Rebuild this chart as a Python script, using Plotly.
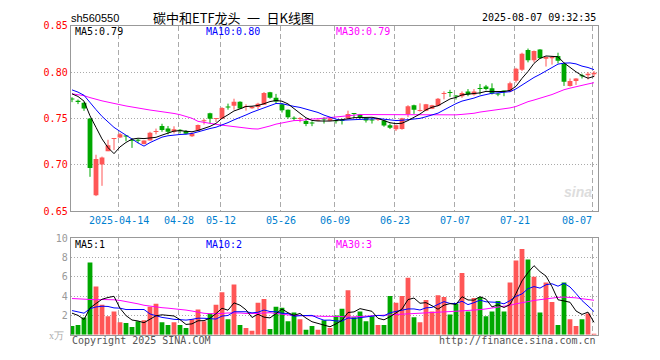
import plotly.graph_objects as go
import pandas as pd

# ---------------- data ----------------
dates = [
    "2025-04-01", "2025-04-02", "2025-04-03", "2025-04-07", "2025-04-08", "2025-04-09", "2025-04-10",
    "2025-04-11", "2025-04-14", "2025-04-15", "2025-04-16", "2025-04-17", "2025-04-18", "2025-04-21",
    "2025-04-22", "2025-04-23", "2025-04-24", "2025-04-25", "2025-04-28", "2025-04-29", "2025-04-30",
    "2025-05-06", "2025-05-07", "2025-05-08", "2025-05-09", "2025-05-12", "2025-05-13", "2025-05-14",
    "2025-05-15", "2025-05-16", "2025-05-19", "2025-05-20", "2025-05-21", "2025-05-22", "2025-05-23",
    "2025-05-26", "2025-05-27", "2025-05-28", "2025-05-29", "2025-05-30", "2025-06-03", "2025-06-04",
    "2025-06-05", "2025-06-06", "2025-06-09", "2025-06-10", "2025-06-11", "2025-06-12", "2025-06-13",
    "2025-06-16", "2025-06-17", "2025-06-18", "2025-06-19", "2025-06-20", "2025-06-23", "2025-06-24",
    "2025-06-25", "2025-06-26", "2025-06-27", "2025-06-30", "2025-07-01", "2025-07-02", "2025-07-03",
    "2025-07-04", "2025-07-07", "2025-07-08", "2025-07-09", "2025-07-10", "2025-07-11", "2025-07-14",
    "2025-07-15", "2025-07-16", "2025-07-17", "2025-07-18", "2025-07-21", "2025-07-22", "2025-07-23",
    "2025-07-24", "2025-07-25", "2025-07-28", "2025-07-29", "2025-07-30", "2025-07-31", "2025-08-01",
    "2025-08-04", "2025-08-05", "2025-08-06", "2025-08-07",
]

opens = [
    0.7708, 0.7683, 0.7670, 0.7500, 0.6672, 0.7004, 0.7149, 0.7280, 0.7297, 0.7309,
    0.7263, 0.7263, 0.7226, 0.7264, 0.7355, 0.7420, 0.7392, 0.7358, 0.7371, 0.7365,
    0.7309, 0.7370, 0.7471, 0.7557, 0.7495, 0.7498, 0.7623, 0.7637, 0.7682, 0.7624,
    0.7610, 0.7624, 0.7650, 0.7785, 0.7724, 0.7655, 0.7595, 0.7501, 0.7495, 0.7474,
    0.7449, 0.7477, 0.7493, 0.7477, 0.7474, 0.7477, 0.7503, 0.7553, 0.7543, 0.7508,
    0.7483, 0.7487, 0.7480, 0.7429, 0.7385, 0.7387, 0.7550, 0.7644, 0.7582, 0.7585,
    0.7606, 0.7637, 0.7766, 0.7779, 0.7741, 0.7741, 0.7793, 0.7759, 0.7821, 0.7846,
    0.7828, 0.7762, 0.7796, 0.7793, 0.7908, 0.8026, 0.8238, 0.8130, 0.8245, 0.8144,
    0.8150, 0.8175, 0.8095, 0.7852, 0.7904, 0.7960, 0.7967, 0.7977,
]
highs = [
    0.7730, 0.7705, 0.7677, 0.7503, 0.7110, 0.7090, 0.7271, 0.7286, 0.7345, 0.7320,
    0.7288, 0.7281, 0.7264, 0.7358, 0.7392, 0.7444, 0.7420, 0.7417, 0.7385, 0.7375,
    0.7350, 0.7436, 0.7498, 0.7563, 0.7505, 0.7623, 0.7661, 0.7714, 0.7686, 0.7654,
    0.7635, 0.7670, 0.7786, 0.7788, 0.7766, 0.7665, 0.7598, 0.7524, 0.7516, 0.7498,
    0.7470, 0.7490, 0.7514, 0.7508, 0.7488, 0.7498, 0.7585, 0.7560, 0.7550, 0.7510,
    0.7505, 0.7498, 0.7485, 0.7446, 0.7432, 0.7508, 0.7644, 0.7650, 0.7664, 0.7658,
    0.7648, 0.7722, 0.7794, 0.7810, 0.7752, 0.7793, 0.7818, 0.7818, 0.7873, 0.7863,
    0.7880, 0.7776, 0.7804, 0.7898, 0.8047, 0.8210, 0.8255, 0.8234, 0.8248, 0.8170,
    0.8175, 0.8210, 0.8098, 0.7932, 0.7935, 0.7984, 0.8001, 0.8012,
]
lows = [
    0.7677, 0.7656, 0.7583, 0.6872, 0.6664, 0.6775, 0.7149, 0.7160, 0.7290, 0.7255,
    0.7184, 0.7236, 0.7222, 0.7264, 0.7330, 0.7358, 0.7330, 0.7340, 0.7340, 0.7330,
    0.7302, 0.7366, 0.7436, 0.7446, 0.7463, 0.7498, 0.7596, 0.7596, 0.7605, 0.7585,
    0.7605, 0.7600, 0.7648, 0.7714, 0.7660, 0.7565, 0.7498, 0.7477, 0.7460, 0.7418,
    0.7418, 0.7474, 0.7446, 0.7474, 0.7446, 0.7436, 0.7498, 0.7505, 0.7495, 0.7457,
    0.7446, 0.7474, 0.7412, 0.7387, 0.7366, 0.7380, 0.7515, 0.7550, 0.7575, 0.7580,
    0.7602, 0.7633, 0.7707, 0.7734, 0.7705, 0.7724, 0.7741, 0.7748, 0.7759, 0.7804,
    0.7759, 0.7741, 0.7741, 0.7783, 0.7887, 0.8012, 0.8106, 0.8106, 0.8148, 0.8061,
    0.8082, 0.8095, 0.7852, 0.7845, 0.7863, 0.7932, 0.7922, 0.7949,
]
closes = [
    0.7705, 0.7680, 0.7608, 0.6968, 0.7065, 0.7081, 0.7212, 0.7283, 0.7331, 0.7306,
    0.7260, 0.7260, 0.7264, 0.7347, 0.7358, 0.7378, 0.7358, 0.7385, 0.7368, 0.7337,
    0.7340, 0.7430, 0.7474, 0.7498, 0.7498, 0.7613, 0.7620, 0.7682, 0.7609, 0.7627,
    0.7628, 0.7661, 0.7776, 0.7724, 0.7685, 0.7590, 0.7515, 0.7498, 0.7498, 0.7442,
    0.7446, 0.7485, 0.7490, 0.7503, 0.7471, 0.7474, 0.7550, 0.7550, 0.7508, 0.7480,
    0.7480, 0.7490, 0.7425, 0.7401, 0.7429, 0.7503, 0.7634, 0.7594, 0.7585, 0.7654,
    0.7644, 0.7714, 0.7769, 0.7776, 0.7738, 0.7776, 0.7759, 0.7793, 0.7818, 0.7818,
    0.7769, 0.7759, 0.7793, 0.7880, 0.8036, 0.8200, 0.8130, 0.8228, 0.8151, 0.8165,
    0.8165, 0.8123, 0.7898, 0.7904, 0.7932, 0.7957, 0.7984, 0.7995,
]
# volume, in units of 10,000 shares ("x万")
volumes = [
    0.9, 1.0, 1.77, 7.5, 5.0, 3.1, 1.9, 2.4, 1.3, 1.2,
    0.8, 1.4, 1.5, 2.9, 3.2, 1.3, 1.0, 1.3, 1.0, 0.7,
    1.6, 2.6, 1.4, 2.2, 3.1, 4.4, 1.6, 5.2, 1.0, 0.7,
    0.4, 3.3, 3.7, 0.6, 2.9, 2.8, 1.4, 2.3, 1.6, 0.5,
    0.9, 0.5, 1.5, 0.7, 2.0, 2.7, 4.6, 1.8, 2.4, 1.4,
    1.9, 1.0, 1.0, 4.0, 3.3, 4.0, 5.9, 1.8, 1.3, 3.6,
    2.4, 4.1, 3.9, 2.1, 3.2, 6.4, 2.4, 3.8, 3.9, 1.9,
    2.4, 3.5, 2.4, 5.4, 7.7, 8.9, 7.8, 6.0, 2.3, 5.4,
    3.4, 1.0, 5.4, 1.6, 0.9, 1.6, 2.2, 0.1,
]
# sessions before the visible window (needed for the first MA5/MA10 points)
prior_closes = [0.792, 0.795, 0.780, 0.778, 0.781, 0.782, 0.786, 0.776, 0.7687]
prior_volumes = [2.5, 3.0, 2.8, 3.2, 2.35, 2.15, 3.92, 1.52, 2.66]

# MA30 lines
ma30_price = [
    0.7767, 0.7757, 0.7747, 0.7726, 0.7705, 0.7691, 0.7677, 0.7662, 0.7646, 0.7636,
    0.7625, 0.7612, 0.7600, 0.7592, 0.7583, 0.7575, 0.7566, 0.7555, 0.7542, 0.7525,
    0.7503, 0.7470, 0.7457, 0.7446, 0.7438, 0.7429, 0.7420, 0.7412, 0.7403, 0.7394,
    0.7390, 0.7387, 0.7401, 0.7420, 0.7440, 0.7455, 0.7468, 0.7478, 0.7480, 0.7490,
    0.7495, 0.7498, 0.7505, 0.7515, 0.7520, 0.7525, 0.7533, 0.7538, 0.7543, 0.7543,
    0.7543, 0.7543, 0.7543, 0.7543, 0.7543, 0.7535, 0.7535, 0.7535, 0.7535, 0.7535,
    0.7535, 0.7535, 0.7535, 0.7535, 0.7540, 0.7545, 0.7550, 0.7557, 0.7570, 0.7578,
    0.7585, 0.7593, 0.7602, 0.7615, 0.7630, 0.7660, 0.7682, 0.7700, 0.7717, 0.7738,
    0.7759, 0.7785, 0.7811, 0.7828, 0.7845, 0.7860, 0.7873, 0.7887,
]
ma30_volume = [
    3.75, 3.70, 3.65, 3.62, 3.62, 3.65, 3.65, 3.62, 3.55, 3.45,
    3.35, 3.20, 3.05, 2.95, 2.87, 2.80, 2.75, 2.70, 2.62, 2.55,
    2.45, 2.32, 2.22, 2.17, 2.17, 2.20, 2.25, 2.28, 2.25, 2.20,
    2.17, 2.20, 2.25, 2.28, 2.20, 2.10, 2.05, 2.00, 1.97, 1.95,
    1.92, 1.90, 1.90, 1.90, 1.90, 1.88, 1.82, 1.85, 1.90, 1.92,
    1.97, 2.02, 2.07, 2.08, 2.10, 2.10, 2.12, 2.15, 2.20, 2.25,
    2.30, 2.33, 2.37, 2.40, 2.43, 2.47, 2.50, 2.55, 2.60, 2.67,
    2.75, 2.82, 2.90, 3.05, 3.20, 3.35, 3.43, 3.55, 3.63, 3.73,
    3.83, 3.87, 3.90, 3.88, 3.82, 3.73, 3.65, 3.57,
]

tick_dates = ["2025-04-14", "2025-04-28", "2025-05-12", "2025-05-26", "2025-06-09",
              "2025-06-23", "2025-07-07", "2025-07-21", "2025-08-07"]
tick_labels = ["2025-04-14", "04-28", "05-12", "05-26", "06-09", "06-23", "07-07", "07-21", "08-07"]
price_ticks = [0.65, 0.70, 0.75, 0.80, 0.85]
volume_ticks = [2, 4, 6, 8, 10]

symbol = "sh560550"
title = "碳中和ETF龙头\u2002一\u2002日K线图"
timestamp = "2025-08-07 09:32:35"
price_ma_labels = ["MA5:0.79", "MA10:0.80", "MA30:0.79"]
volume_ma_labels = ["MA5:1", "MA10:2", "MA30:3"]

# ---------------- derived ----------------
n = len(dates)
xs = list(range(n))
allc = pd.Series(prior_closes + closes)
ma5_price = allc.rolling(5).mean().tolist()[len(prior_closes):]
ma10_price = allc.rolling(10).mean().tolist()[len(prior_closes):]
allv = pd.Series(prior_volumes + volumes)
ma5_vol = allv.rolling(5).mean().tolist()[len(prior_volumes):]
ma10_vol = allv.rolling(10).mean().tolist()[len(prior_volumes):]

RED = "#FF5656"
GREEN = "#00A800"
up = [c > o for o, c in zip(opens, closes)]
colors = [RED if u else GREEN for u in up]
MONO = "DejaVu Sans Mono"

W, H = 660, 360
def px(x):
    return x / W
def py(y):
    return 1 - y / H

fig = go.Figure()

# wicks
for flag, col in ((True, RED), (False, GREEN)):
    wx, wy = [], []
    for i in xs:
        if up[i] == flag:
            wx += [i, i, None]
            wy += [lows[i], highs[i], None]
    fig.add_trace(go.Scatter(x=wx, y=wy, mode="lines", line=dict(color=col, width=1),
                             xaxis="x", yaxis="y", hoverinfo="skip"))

# candle bodies
base = [min(o, c) for o, c in zip(opens, closes)]
height = [max(abs(c - o), 0.0011) for o, c in zip(opens, closes)]
fig.add_trace(go.Bar(x=xs, y=height, base=base, width=0.8, marker=dict(color=colors, line=dict(width=0)),
                     xaxis="x", yaxis="y", hoverinfo="skip"))

# price MAs
for vals, col in ((ma30_price, "#FF00FF"), (ma10_price, "#0000FF"), (ma5_price, "#000000")):
    fig.add_trace(go.Scatter(x=xs, y=vals, mode="lines", line=dict(color=col, width=1),
                             xaxis="x", yaxis="y", hoverinfo="skip"))

# volume bars
fig.add_trace(go.Bar(x=xs, y=volumes, width=0.8, marker=dict(color=colors, line=dict(width=0)),
                     xaxis="x2", yaxis="y2", hoverinfo="skip"))
for vals, col in ((ma30_volume, "#FF00FF"), (ma10_vol, "#0000FF"), (ma5_vol, "#000000")):
    fig.add_trace(go.Scatter(x=xs, y=vals, mode="lines", line=dict(color=col, width=1),
                             xaxis="x2", yaxis="y2", hoverinfo="skip"))

tick_idx = [dates.index(d) - 0.25 for d in tick_dates]
xdom = [px(70.7), px(597.6)]
xr = [-0.217, 87.6]
axis_common = dict(showline=True, mirror=True, linecolor="#999999", linewidth=1, zeroline=False)

fig.update_layout(
    width=W, height=H, margin=dict(l=0, r=0, t=0, b=0),
    paper_bgcolor="white", plot_bgcolor="white", showlegend=False, hovermode=False,
    barmode="overlay",
    xaxis=dict(domain=xdom, range=xr, anchor="y", tickvals=tick_idx, showticklabels=False, ticks="",
               showgrid=True, gridcolor="#AAAAAA", gridwidth=1, griddash="5px,3px", **axis_common),
    yaxis=dict(domain=[py(212.4), py(20.5)], range=[0.65, 0.85], anchor="x", tickvals=price_ticks,
               ticktext=[f"{v:.2f}" for v in price_ticks], tickfont=dict(family=MONO, size=10, color="#FF0000"),
               ticks="", showgrid=True, gridcolor="#AAAAAA", gridwidth=1, griddash="1px,2px", **axis_common),
    xaxis2=dict(domain=xdom, range=xr, anchor="y2", tickvals=tick_idx, showticklabels=False, ticks="",
                showgrid=True, gridcolor="#AAAAAA", gridwidth=1, griddash="5px,3px", **axis_common),
    yaxis2=dict(domain=[py(340), py(240.3)], range=[0, 10], anchor="x2", tickvals=volume_ticks,
                ticktext=[str(v) for v in volume_ticks], tickfont=dict(family=MONO, size=10, color="#999999"),
                ticks="", showgrid=True, gridcolor="#AAAAAA", gridwidth=1, griddash="1px,2px", **axis_common),
)

ann = []
# date tick labels
for i, (t, lab) in enumerate(zip(tick_idx, tick_labels)):
    last = i == len(tick_idx) - 1
    ann.append(dict(x=t + (0.3 if last else 0), y=py(222), xref="x", yref="paper", text=lab, showarrow=False,
                    xanchor="right" if last else "center", yanchor="middle",
                    font=dict(family=MONO, size=10, color="#0080D0")))
# header
ann.append(dict(x=px(69), y=py(12), xref="paper", yref="paper", text=symbol, showarrow=False,
                xanchor="left", yanchor="middle", font=dict(family="Liberation Sans", size=11, color="#000")))
ann.append(dict(x=px(151), y=py(12), xref="paper", yref="paper", text=title, showarrow=False,
                xanchor="left", yanchor="middle", font=dict(family="Noto Sans CJK SC", size=13, color="#000")))
ann.append(dict(x=px(598), y=py(12), xref="paper", yref="paper", text=timestamp, showarrow=False,
                xanchor="right", yanchor="middle", font=dict(family=MONO, size=10, color="#000")))
# MA labels
ma_cols = ["#000000", "#0000FF", "#FF00FF"]
ma_x = [73, 204, 334]
for lab, col, x in zip(price_ma_labels, ma_cols, ma_x):
    ann.append(dict(x=px(x), y=py(26.5), xref="paper", yref="paper", text=lab, showarrow=False,
                    xanchor="left", yanchor="middle", font=dict(family=MONO, size=10, color=col)))
for lab, col, x in zip(volume_ma_labels, ma_cols, ma_x):
    ann.append(dict(x=px(x), y=py(246.5), xref="paper", yref="paper", text=lab, showarrow=False,
                    xanchor="left", yanchor="middle", font=dict(family=MONO, size=10, color=col)))
# unit, watermark, footer
ann.append(dict(x=px(66), y=py(341), xref="paper", yref="paper", text="x万", showarrow=False,
                xanchor="right", yanchor="middle", font=dict(family="Liberation Serif", size=10, color="#AAAAAA")))
ann.append(dict(x=px(594), y=py(192), xref="paper", yref="paper", text="<i><b>sina</b></i>", showarrow=False,
                xanchor="right", yanchor="middle", font=dict(family="Liberation Sans", size=14, color="#DDDDDD")))
ann.append(dict(x=px(70), y=py(346), xref="paper", yref="paper", text="Copyright 2025 SINA.COM", showarrow=False,
                xanchor="left", yanchor="middle", font=dict(family=MONO, size=10, color="#555555")))
ann.append(dict(x=px(598), y=py(346), xref="paper", yref="paper", text="http://finance.sina.com.cn",
                showarrow=False, xanchor="right", yanchor="middle", font=dict(family=MONO, size=10, color="#555555")))
fig.update_layout(annotations=ann)

fig.write_html("out.html", config={"displayModeBar": False, "staticPlot": True},
               post_script="document.body.style.margin='0px';document.body.style.padding='0px';")
